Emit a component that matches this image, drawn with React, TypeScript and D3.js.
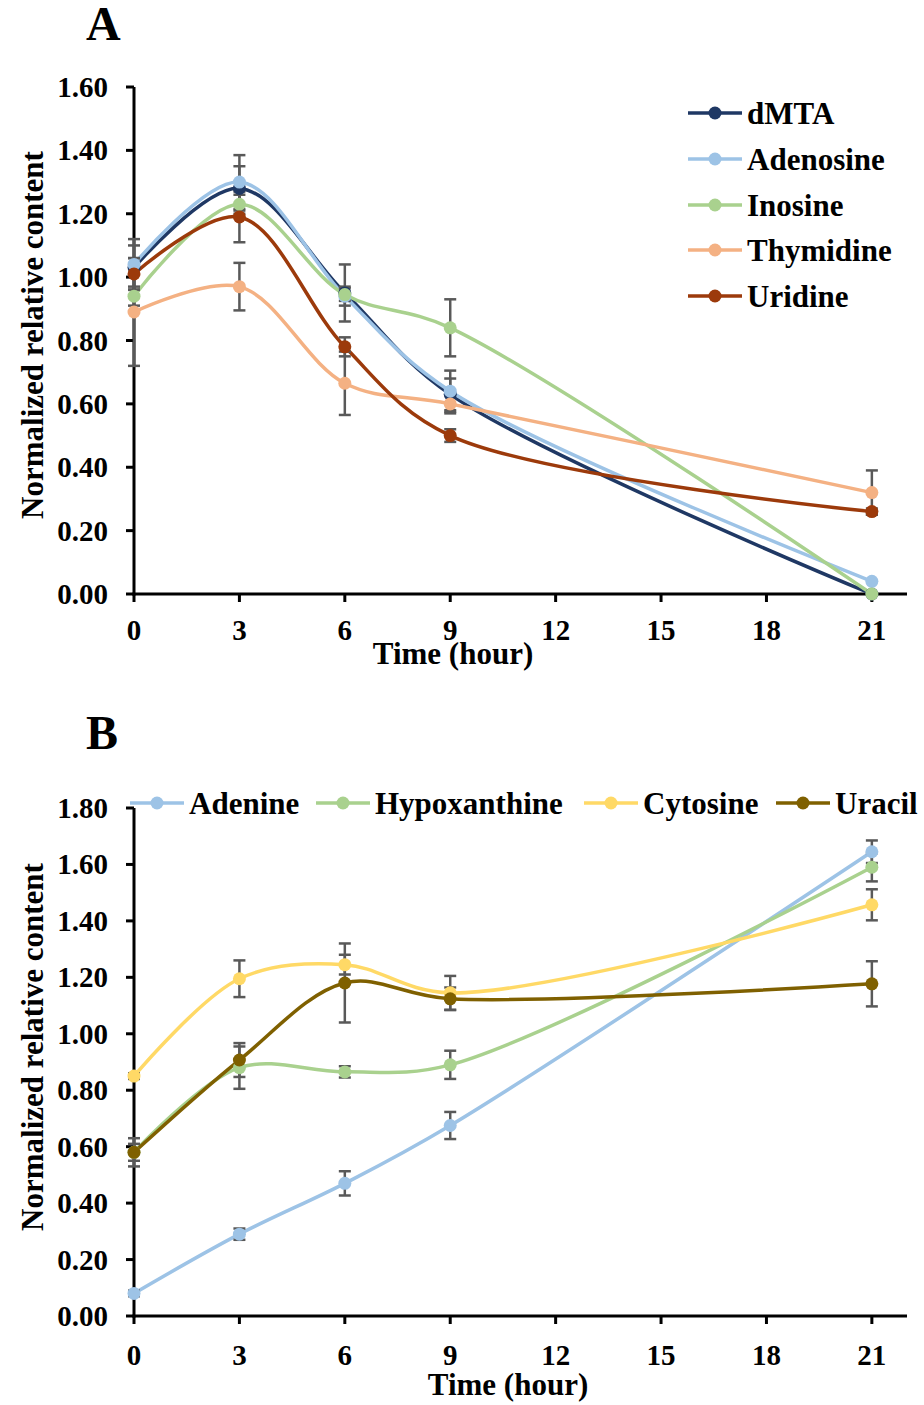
import React from "react";
import * as d3 from "d3";

// ---------- data ----------
const hours = [0, 3, 6, 9, 21];
const xTicks = [0, 3, 6, 9, 12, 15, 18, 21];
const yTicksA = [0, 0.2, 0.4, 0.6, 0.8, 1.0, 1.2, 1.4, 1.6];
const yTicksB = [0, 0.2, 0.4, 0.6, 0.8, 1.0, 1.2, 1.4, 1.6, 1.8];

const namesA = ["dMTA", "Adenosine", "Inosine", "Thymidine", "Uridine"];
const dMTA = [1.03, 1.28, 0.95, 0.63, 0.0];
const dMTAErr = [0.07, 0.07, 0.09, 0.05, 0];
const adenosine = [1.04, 1.3, 0.94, 0.64, 0.04];
const adenosineErr = [0.08, 0.085, 0.03, 0.065, 0];
const inosine = [0.94, 1.23, 0.945, 0.84, 0.0];
const inosineErr = [0.03, 0.03, 0.02, 0.09, 0];
const thymidine = [0.89, 0.97, 0.665, 0.6, 0.32];
const thymidineErr = [0.17, 0.075, 0.1, 0.03, 0.07];
const uridine = [1.01, 1.19, 0.78, 0.5, 0.26];
const uridineErr = [0.05, 0.08, 0.03, 0.02, 0.01];

const namesB = ["Adenine", "Hypoxanthine", "Cytosine", "Uracil"];
const adenine = [0.08, 0.29, 0.47, 0.675, 1.645];
const adenineErr = [0.01, 0.02, 0.043, 0.048, 0.04];
const hypoxanthine = [0.58, 0.88, 0.865, 0.89, 1.59];
const hypoxanthineErr = [0.05, 0.075, 0.02, 0.05, 0.05];
const cytosine = [0.85, 1.195, 1.245, 1.145, 1.457];
const cytosineErr = [0.01, 0.065, 0.035, 0.06, 0.055];
const uracil = [0.58, 0.907, 1.18, 1.124, 1.177];
const uracilErr = [0.03, 0.06, 0.14, 0.04, 0.08];

const colorsA = ["#1F3864", "#9DC3E6", "#A9D18E", "#F4B183", "#9C3A0B"];
const colorsB = ["#9DC3E6", "#A9D18E", "#FFD966", "#7F6000"];

const seriesA = [
  { name: namesA[0], v: dMTA, e: dMTAErr, c: colorsA[0] },
  { name: namesA[1], v: adenosine, e: adenosineErr, c: colorsA[1] },
  { name: namesA[2], v: inosine, e: inosineErr, c: colorsA[2] },
  { name: namesA[3], v: thymidine, e: thymidineErr, c: colorsA[3] },
  { name: namesA[4], v: uridine, e: uridineErr, c: colorsA[4] },
];
const seriesB = [
  { name: namesB[0], v: adenine, e: adenineErr, c: colorsB[0] },
  { name: namesB[1], v: hypoxanthine, e: hypoxanthineErr, c: colorsB[1] },
  { name: namesB[2], v: cytosine, e: cytosineErr, c: colorsB[2] },
  { name: namesB[3], v: uracil, e: uracilErr, c: colorsB[3] },
];

const FONT = "'Liberation Serif', 'Times New Roman', serif";
const ERR = "#595959";

type Series = { name: string; v: number[]; e: number[]; c: string };

function Panel({
  series, x, y, yTicks, xTitleX, xTitleY, xTickY, yTitleY, letter, letterY,
}: {
  series: Series[];
  x: d3.ScaleLinear<number, number>;
  y: d3.ScaleLinear<number, number>;
  yTicks: number[];
  xTitleX: number; xTitleY: number; xTickY: number; yTitleY: number;
  letter: string; letterY: number;
}) {
  const [x0, x1] = x.range();
  const [yb, yt] = y.range();
  const line = d3
    .line<number>()
    .x((_, i) => x(hours[i]))
    .y((d) => y(d))
    .curve(d3.curveCatmullRom.alpha(0.5));
  return (
    <g>
      <text x={86} y={letterY} fontFamily={FONT} fontWeight="bold" fontSize={48}>{letter}</text>
      {/* axes */}
      <line x1={x0} x2={x0} y1={yt} y2={yb + 1.5} stroke="#000" strokeWidth={3} />
      <line x1={x0 - 1.5} x2={x1} y1={yb} y2={yb} stroke="#000" strokeWidth={3} />
      {yTicks.map((t) => (
        <g key={"y" + t}>
          <line x1={x0 - 8} x2={x0} y1={y(t)} y2={y(t)} stroke="#000" strokeWidth={3} />
          <text x={108} y={y(t) + 10} textAnchor="end" fontFamily={FONT} fontWeight="bold" fontSize={29}>
            {t.toFixed(2)}
          </text>
        </g>
      ))}
      {xTicks.map((t) => (
        <g key={"x" + t}>
          <line x1={x(t)} x2={x(t)} y1={yb} y2={yb + 8} stroke="#000" strokeWidth={3} />
          <text x={x(t)} y={xTickY} textAnchor="middle" fontFamily={FONT} fontWeight="bold" fontSize={29}>
            {t}
          </text>
        </g>
      ))}
      <text x={xTitleX} y={xTitleY} textAnchor="middle" fontFamily={FONT} fontWeight="bold" fontSize={31}>
        Time (hour)
      </text>
      <text
        transform={`translate(43,${yTitleY}) rotate(-90)`}
        textAnchor="middle" fontFamily={FONT} fontWeight="bold" fontSize={31}
      >
        Normalized relative content
      </text>
      {/* lines */}
      {series.map((s) => (
        <path key={"l" + s.name} d={line(s.v) || ""} fill="none" stroke={s.c} strokeWidth={3.5} />
      ))}
      {/* error bars */}
      {series.map((s) =>
        s.v.map((v, i) =>
          s.e[i] > 0 ? (
            <g key={"e" + s.name + i} stroke={ERR} strokeWidth={2.5}>
              <line x1={x(hours[i])} x2={x(hours[i])} y1={y(v + s.e[i])} y2={y(v - s.e[i])} />
              <line x1={x(hours[i]) - 6} x2={x(hours[i]) + 6} y1={y(v + s.e[i])} y2={y(v + s.e[i])} />
              <line x1={x(hours[i]) - 6} x2={x(hours[i]) + 6} y1={y(v - s.e[i])} y2={y(v - s.e[i])} />
            </g>
          ) : null
        )
      )}
      {/* markers */}
      {series.map((s) =>
        s.v.map((v, i) => (
          <circle key={"m" + s.name + i} cx={x(hours[i])} cy={y(v)} r={6.5} fill={s.c} />
        ))
      )}
    </g>
  );
}

function LegendItem({ s, lx, ly }: { s: Series; lx: number; ly: number }) {
  return (
    <g>
      <line x1={lx} x2={lx + 54} y1={ly} y2={ly} stroke={s.c} strokeWidth={3.5} />
      <circle cx={lx + 27} cy={ly} r={6.5} fill={s.c} />
      <text x={lx + 59} y={ly + 11} fontFamily={FONT} fontWeight="bold" fontSize={31}>{s.name}</text>
    </g>
  );
}

export default function App() {
  const xA = d3.scaleLinear().domain([0, 22]).range([134, 907]);
  const yA = d3.scaleLinear().domain([0, 1.6]).range([594, 87]);
  const xB = d3.scaleLinear().domain([0, 22]).range([134, 907]);
  const yB = d3.scaleLinear().domain([0, 1.8]).range([1316, 808]);
  const legendAY = [113, 159, 205, 250, 296];
  const legendBX = [130, 316, 584, 776];
  return (
    <svg width={924} height={1405} style={{ position: "absolute", left: 0, top: 0, background: "#fff" }}>
      <rect width={924} height={1405} fill="#fff" />
      <Panel series={seriesA} x={xA} y={yA} yTicks={yTicksA} xTitleX={453} xTitleY={664} xTickY={640}
        yTitleY={335} letter="A" letterY={40} />
      <Panel series={seriesB} x={xB} y={yB} yTicks={yTicksB} xTitleX={508} xTitleY={1395} xTickY={1365}
        yTitleY={1047} letter="B" letterY={749} />
      {seriesA.map((s, i) => (
        <LegendItem key={"la" + i} s={s} lx={688} ly={legendAY[i]} />
      ))}
      {seriesB.map((s, i) => (
        <LegendItem key={"lb" + i} s={s} lx={legendBX[i]} ly={803} />
      ))}
    </svg>
  );
}
